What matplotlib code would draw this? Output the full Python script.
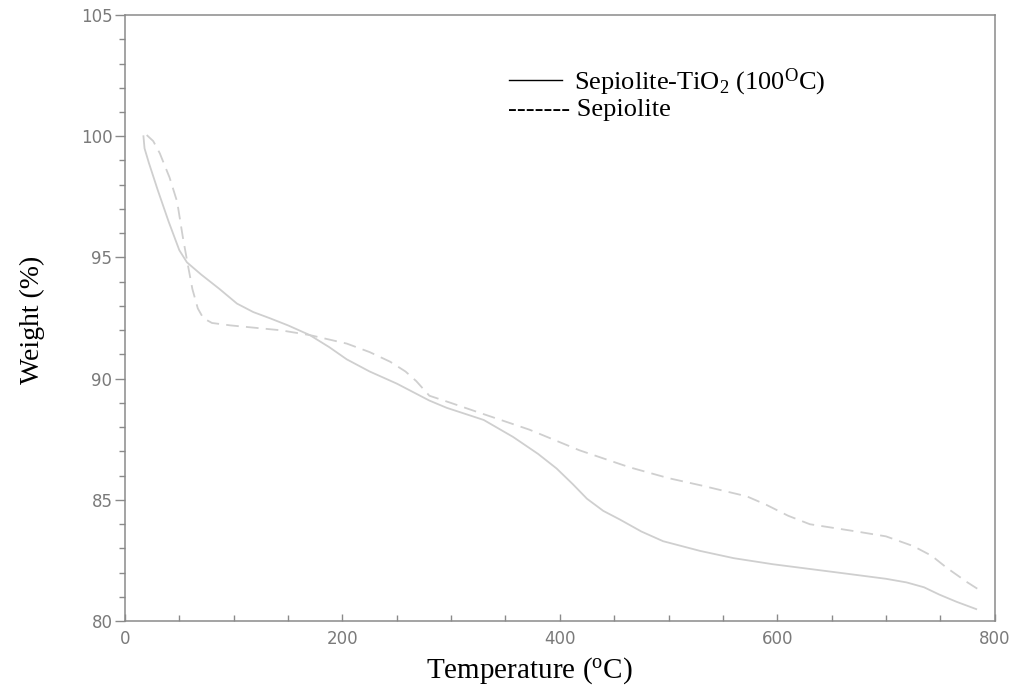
import numpy as np
import matplotlib
matplotlib.use("Agg")
import matplotlib.pyplot as plt
from matplotlib.lines import Line2D
from matplotlib.ticker import MultipleLocator

plt.rcParams['mathtext.fontset'] = 'custom'
plt.rcParams['mathtext.rm'] = 'Liberation Serif'
plt.rcParams['mathtext.it'] = 'Liberation Serif:italic'

# Sepiolite-TiO2 (100 C), solid curve
temp_tio2 = [17, 18, 22, 30, 40, 50, 57, 70, 87, 103, 118, 133, 150, 170, 188,
             204, 225, 250, 280, 296, 330, 357, 380, 397, 412, 425, 440, 455,
             475, 495, 529, 560, 596, 657, 700, 719, 735, 749, 765, 783]
weight_tio2 = [100.0, 99.5, 98.9, 97.8, 96.5, 95.3, 94.8, 94.3, 93.7, 93.1,
               92.75, 92.5, 92.2, 91.8, 91.3, 90.8, 90.3, 89.8, 89.1, 88.8, 88.3,
               87.6, 86.9, 86.3, 85.65, 85.05, 84.55, 84.2, 83.7, 83.3, 82.9,
               82.6, 82.35, 82.0, 81.75, 81.6, 81.4, 81.1, 80.8, 80.5]

# Sepiolite, dashed curve
temp_sep = [20, 26, 32, 41, 48, 53, 57, 62, 67, 72, 80, 97, 143, 170, 204, 225,
            244, 258, 268, 280, 300, 326, 372, 418, 464, 500, 530, 572, 590, 610,
            630, 673, 700, 725, 742, 756, 775, 789]
weight_sep = [100.05, 99.8, 99.3, 98.3, 97.3, 95.9, 94.9, 93.7, 92.9, 92.5, 92.3,
              92.2, 92.0, 91.8, 91.45, 91.1, 90.7, 90.3, 89.9, 89.3, 89.0, 88.6,
              87.9, 87.05, 86.35, 85.9, 85.6, 85.15, 84.8, 84.35, 84.0, 83.7,
              83.5, 83.1, 82.7, 82.2, 81.6, 81.2]

CURVE = '#cfcfcf'
AXIS = '#8a8a8a'

fig = plt.figure(figsize=(10.16, 6.98), dpi=100)
ax = fig.add_axes([0.123, 0.110, 0.856, 0.8685])

ax.plot(temp_tio2, weight_tio2, color=CURVE, lw=1.3)
ax.plot(temp_sep, weight_sep, color=CURVE, lw=1.3, dashes=(7, 4))

ax.set_xlim(0, 800)
ax.set_ylim(80, 105)
ax.xaxis.set_major_locator(MultipleLocator(200))
ax.xaxis.set_minor_locator(MultipleLocator(50))
ax.yaxis.set_major_locator(MultipleLocator(5))
ax.yaxis.set_minor_locator(MultipleLocator(1))

for s in ax.spines.values():
    s.set_color(AXIS)
    s.set_linewidth(1.1)

ax.tick_params(axis='y', which='major', direction='out', length=7, width=1,
               color=AXIS, labelcolor='#7a7a7a', labelsize=12, pad=2)
ax.tick_params(axis='y', which='minor', direction='out', length=4, width=1,
               color=AXIS)
ax.tick_params(axis='x', which='major', direction='in', length=5, width=1,
               color=AXIS, labelcolor='#7a7a7a', labelsize=12, pad=6)
ax.tick_params(axis='x', which='minor', direction='in', length=4, width=1,
               color=AXIS)
for lab in ax.get_xticklabels() + ax.get_yticklabels():
    lab.set_family('Liberation Sans Narrow')

ax.set_xlabel('Temperature ($\\mathrm{^oC}$)', family='Liberation Serif',
              fontsize=21, va='center')
ax.xaxis.set_label_coords((530 - 125) / 870, -(670 - 621) / 606)
ax.set_ylabel('Weight (%)', family='Liberation Serif', fontsize=20,
              va='center')
ax.yaxis.set_label_coords((32 - 125) / 870, (621 - 320) / 606)

# legend drawn as in the original: line sample plus text
fig.add_artist(Line2D([509 / 1016, 562 / 1016], [1 - 80 / 698, 1 - 80 / 698],
                      color='black', lw=1))
fig.text(574 / 1016, 1 - 82 / 698,
         'Sepiolite-TiO$_\\mathrm{2}$ (100$^\\mathrm{O}$C)',
         family='Liberation Serif', fontsize=19, va='center')
fig.text(508 / 1016, 1 - 110 / 698, '------- Sepiolite',
         family='Liberation Serif', fontsize=19, va='center')

fig.savefig('out.png', dpi=100)
